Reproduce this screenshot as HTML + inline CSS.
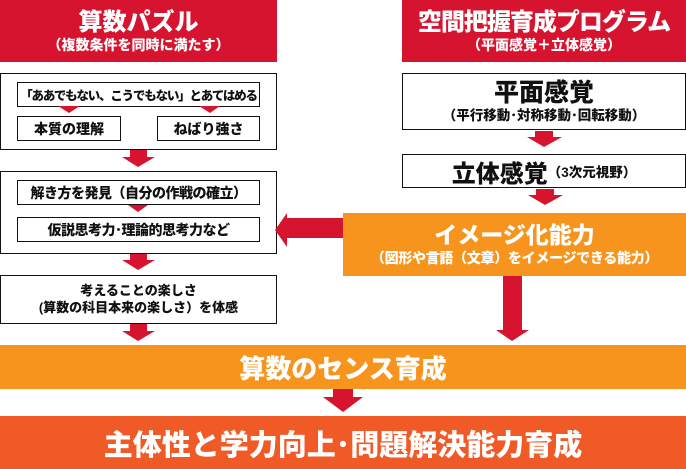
<!DOCTYPE html>
<html><head><meta charset="utf-8"><style>
*{margin:0;padding:0;box-sizing:border-box}
body{width:686px;height:469px;background:#fff;position:relative;overflow:hidden;font-family:"Liberation Sans","Noto Sans CJK JP",sans-serif;font-weight:900}
div{position:absolute}
.r{background:#d7142f}
.o{background:#f7941d}
.bx{border:1.5px solid #111;background:#fff}
.c{display:flex;align-items:center;justify-content:center;text-align:center;color:#111;white-space:nowrap}
.w{color:#fff}
svg{position:absolute;left:0;top:0}
</style></head><body>
<div class="r c w" style="left:0;top:0;width:277px;height:62px;flex-direction:column;line-height:1.15">
<span style="font-size:24px">算数パズル</span><span style="font-size:14px">（複数条件を同時に満たす）</span></div>
<div class="r c w" style="left:402px;top:0;width:284px;height:62px;flex-direction:column;line-height:1.15">
<span style="font-size:24px;letter-spacing:-1px">空間把握育成プログラム</span><span style="font-size:14px">（平面感覚＋立体感覚）</span></div>

<div class="bx" style="left:0;top:73px;width:277px;height:77px"></div>
<div class="bx c" style="left:17px;top:82px;width:243px;height:25px;font-size:12.5px;letter-spacing:-1.2px">「ああでもない、こうでもない」とあてはめる</div>
<div class="bx c" style="left:17px;top:116px;width:104px;height:25px;font-size:14px">本質の理解</div>
<div class="bx c" style="left:157px;top:116px;width:103px;height:25px;font-size:14px">ねばり強さ</div>

<div class="bx" style="left:0;top:171px;width:277px;height:83px"></div>
<div class="bx c" style="left:17px;top:180px;width:243px;height:25px;font-size:14px;letter-spacing:-0.5px">解き方を発見（自分の作戦の確立）</div>
<div class="bx c" style="left:17px;top:217px;width:243px;height:25px;font-size:14px;letter-spacing:-0.5px">仮説思考力･理論的思考力など</div>

<div class="bx c" style="left:0;top:275px;width:277px;height:49px;font-size:13px;flex-direction:column;line-height:1.3"><span>考えることの楽しさ</span><span>(算数の科目本来の楽しさ）を体感</span></div>

<div class="bx c" style="left:402px;top:73px;width:284px;height:57px;flex-direction:column;line-height:1.2"><span style="font-size:25px">平面感覚</span><span style="font-size:13.5px">（平行移動･対称移動･回転移動）</span></div>
<div class="bx c" style="left:402px;top:154px;width:284px;height:34px"><span style="font-size:24px">立体感覚</span><span style="font-size:13.5px">（3次元視野）</span></div>

<div class="o c w" style="left:343px;top:213px;width:343px;height:63px;flex-direction:column;line-height:1.25"><span style="font-size:23px">イメージ化能力</span><span style="font-size:14px;letter-spacing:-0.3px">（図形や言語（文章）をイメージできる能力）</span></div>

<div class="o c w" style="left:0;top:345px;width:686px;height:44px;font-size:26px">算数のセンス育成</div>
<div class="c w" style="left:0;top:416px;width:686px;height:53px;background:#f05a26;font-size:29px">主体性と学力向上･問題解決能力育成</div>

<svg width="686" height="469" fill="#d7142f">
<polygon points="58,106 80,106 69,113"/>
<polygon points="199,106 220,106 210,113"/>
<polygon points="130,150 147,150 147,157 155,157 138,167 122,157 130,157"/>
<polygon points="128,205 148,205 138,212"/>
<polygon points="130,254 147,254 147,260 155,260 138,270 122,260 130,260"/>
<polygon points="130,324 147,324 147,331 155,331 138,341 122,331 130,331"/>
<polygon points="535,131 553,131 553,137 562,137 544,147 527,137 535,137"/>
<polygon points="536,189 554,189 554,195 563,195 545,205 528,195 536,195"/>
<polygon points="343,218 287,218 287,213 275,230 287,247 287,238 343,238"/>
<polygon points="503,276 522,276 522,330 529,330 512,341 496,330 503,330"/>
<polygon points="333,389 353,389 353,397 363,397 343,412 323,397 333,397"/>
</svg>
</body></html>
